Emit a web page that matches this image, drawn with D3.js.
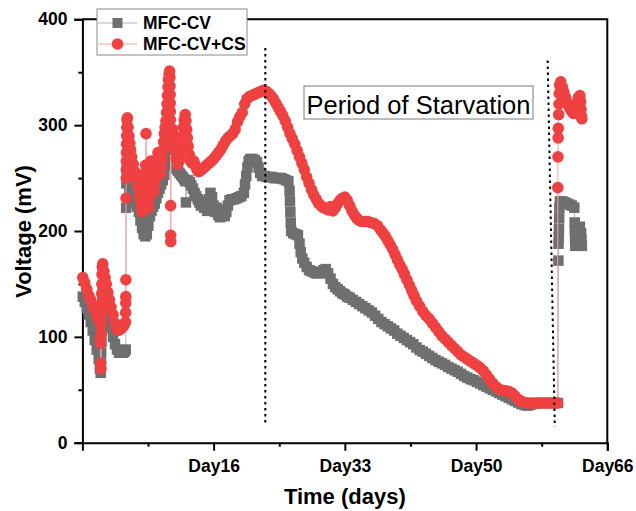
<!DOCTYPE html>
<html>
<head>
<meta charset="utf-8">
<script src="https://cdn.jsdelivr.net/npm/d3@7"></script>
<style>
  body { margin: 0; background: #fff; }
  svg { display: block; }
  text { font-family: "Liberation Sans", Arial, sans-serif; }
</style>
</head>
<body>
<svg id="chart" width="636" height="511"></svg>
<script>
// ---- data: [day, voltage in mV] ---------------------------------------
const seriesNames = ["MFC-CV", "MFC-CV+CS"];

// MFC-CV (grey squares)
const cvPoints = [
  [0.05,138],[0.3,133],[0.55,127],[0.8,121],[1.05,114],[1.3,106],[1.55,97],[1.8,88],[2.05,79],[2.2,70],
  [2.3,66],[2.33,75],[2.36,85],[2.39,95],[2.42,105],[2.45,115],[2.48,125],[2.51,135],[2.54,143],[2.7,144],
  [2.84,140],[3.03,132],[3.22,124],[3.41,116],[3.6,108],[3.85,100],[4.1,93],[4.35,88],[4.6,85],[4.85,85],
  [5.1,85],[5.3,86],[5.45,88],
  [5.5,222],[5.53,245],[5.57,258],[5.7,250],[5.9,241],[6.1,236],[6.35,231],[6.6,227],[6.85,223],[7.1,218],
  [7.3,210],[7.5,203],[7.7,197],[7.9,195],[8.1,197],[8.3,205],[8.5,214],[8.7,219],[8.9,223],[9.1,226],
  [9.3,231],[9.5,236],[9.7,240],[9.9,244],[10.1,248],[10.3,253],[10.5,262],[10.7,272],[10.85,279],
  [11.0,272],[11.2,268],[11.4,265],[11.6,262],[11.8,259],[12.0,257],[12.2,255],[12.4,253],[12.6,251],[12.8,249],
  [12.95,247],[13.02,227],[13.1,248],[13.3,248],[13.5,246],[13.7,243],[13.9,240],[14.1,236],[14.3,233],[14.5,230],
  [14.7,227],[14.9,224],[15.1,228],[15.3,222],[15.5,226],[15.7,219],[15.9,230],[16.1,236],[16.3,232],[16.5,224],
  [16.7,218],[16.9,222],[17.1,215],[17.3,213],[17.5,214],[17.7,220],[17.9,214],[18.1,218],[18.3,224],[18.5,229],
  [18.8,230],[19.1,230],[19.4,231],[19.7,232],[20.0,233],[20.3,236],[20.45,244],[20.6,252],[20.75,260],[20.9,266],
  [21.1,268],[21.4,268],[21.7,267],[21.95,265],[22.15,260],[22.35,255],[22.6,252],[22.9,252],[23.2,251],[23.5,251],
  [23.8,251],[24.1,250],[24.4,250],[24.7,250],[25.0,250],[25.3,249],[25.6,248],[25.9,247],[26.05,238],[26.1,228],
  [26.15,218],[26.2,208],[26.25,200],[26.5,198],[26.8,197],[27.1,196],[27.3,188],[27.45,180],[27.65,174],[27.9,170],
  [28.2,166],[28.5,163],[28.8,162],[29.1,161],[29.4,160],[29.7,160],[30.0,161],[30.3,163],[30.6,164],[30.9,160],
  [31.2,155],[31.5,150],[31.8,147],[32.1,145],[32.4,143],[32.7,141],[33.0,140],[33.3,138],[33.6,137],
  [34.0,135],[34.4,133],[34.8,131],[35.2,129],[35.6,127],[36.0,125],[36.4,123],[36.8,120],[37.2,117],[37.6,114],
  [38.0,112],[38.4,110],[38.8,108],[39.2,106],[39.6,103],[40.0,101],[40.4,99],[40.8,97],[41.2,95],[41.6,93],
  [42.0,90],[42.4,87.5],[42.8,86],[43.2,84],[43.6,82],[44.0,80],[44.4,78],[44.8,76.5],[45.2,75],[45.6,73.5],
  [46.0,71.5],[46.4,70],[46.8,68.5],[47.2,67],[47.6,65],[48.0,63],[48.4,61.5],[48.8,60],[49.2,59],[49.6,57.5],
  [50.0,56],[50.4,54.5],[50.8,53],[51.2,51.5],[51.6,50],[52.0,48.5],[52.4,47],[52.8,45.5],[53.2,44],[53.6,42.5],
  [54.0,41],[54.4,39.5],[54.8,38],[55.2,36.5],[55.6,35.5],[56.0,35],[56.4,36],[56.8,37],[57.3,37.5],[57.8,37.5],
  [58.3,37.5],[58.8,37.5],[59.3,37.5],[59.8,37.5],
  [59.85,172],[59.87,188],[59.9,194],[59.92,202],[59.95,212],[59.98,222],[60.05,228],[60.35,228],[60.65,227],[60.95,226],
  [61.25,225],[61.55,224],[61.85,222],[61.9,208],[61.92,200],[61.95,192],[61.98,186],[62.2,190],[62.4,200],[62.55,204],
  [62.7,198],[62.75,192],[62.8,186]
];

// MFC-CV+CS (red circles)
const csPoints = [
  [0.05,156],[0.3,151],[0.55,145],[0.8,139],[1.05,135],[1.3,130],[1.55,125],[1.8,120],[2.05,116],[2.2,113],
  [2.26,99],[2.28,94],[2.31,75],[2.33,70],
  [2.38,105],[2.39,114],[2.4,123],[2.41,132],[2.43,141],[2.45,150],[2.47,159],[2.5,166],[2.56,169],[2.7,162],
  [2.84,156],[3.0,150],[3.2,142],[3.4,135],[3.6,128],[3.85,121],[4.1,113],[4.3,108],[4.5,106],[4.75,107],
  [5.0,109],[5.25,111],[5.42,114],[5.44,123],[5.45,132],[5.46,138],[5.47,154],
  [5.49,231],[5.51,250],[5.52,258],[5.53,266],[5.54,274],[5.55,282],[5.56,290],[5.58,298],[5.6,305],[5.66,307],
  [5.75,298],[5.85,290],[5.95,283],[6.05,277],[6.2,270],[6.4,263],[6.6,256],[6.8,250],[7.0,242],[7.2,234],
  [7.3,228],[7.4,222],[7.5,218],[7.6,226],[7.7,236],[7.8,246],[7.9,255],[7.95,262],[8.0,292],[8.05,262],
  [8.1,254],[8.15,246],[8.2,238],[8.25,230],[8.3,222],[8.35,229],[8.4,236],[8.45,244],[8.5,252],[8.55,260],
  [8.6,266],[8.7,258],[8.8,250],[8.9,243],[9.0,237],[9.1,244],[9.2,252],[9.3,260],[9.4,268],[9.5,274],
  [9.6,266],[9.7,258],[9.8,254],[9.9,261],[10.0,268],[10.1,276],[10.2,284],[10.3,292],[10.4,298],[10.5,304],
  [10.58,312],[10.64,320],[10.7,328],[10.76,336],[10.82,343],[10.9,348],[10.96,351],[11.0,345],[11.02,337],[11.03,329],
  [11.04,321],[11.05,313],[11.06,305],[11.07,297],[11.08,289],[11.09,224],[11.1,196],[11.11,190],
  [11.15,282],[11.25,290],[11.35,296],[11.45,290],[11.55,282],[11.65,275],[11.8,268],[12.0,263],[12.2,267],[12.35,274],
  [12.5,282],[12.6,290],[12.7,298],[12.8,305],[12.92,310],[13.02,304],[13.1,296],[13.2,288],[13.3,280],[13.45,272],
  [13.6,266],[13.8,264],[14.0,266],[14.2,262],[14.4,258],[14.6,256],[14.8,257],[15.0,258],[15.3,260],[15.6,262],
  [15.9,264],[16.2,266],[16.5,268],[16.8,271],[17.1,274],[17.4,277],[17.7,281],[18.0,285],[18.3,288],[18.6,290],
  [18.9,292],[19.2,296],[19.5,303],[19.8,308],[20.1,312],[20.4,320],[20.7,325],[21.0,327],[21.3,328],[21.6,329],
  [21.9,330],[22.2,331],[22.5,332],[22.8,333],[23.1,332],[23.4,330],[23.7,328],[24.0,325],[24.3,321],[24.6,317],
  [24.9,313],[25.2,309],[25.5,304],[25.8,298],[26.1,292],[26.4,287],[26.7,282],[27.0,276],[27.3,270],[27.6,264],
  [27.9,258],[28.2,251],[28.5,245],[28.8,239],[29.1,234],[29.4,230],[29.7,226],[30.0,224],[30.3,222],[30.6,221],
  [30.9,220],[31.2,223],[31.5,219],[31.8,222],[32.1,226],[32.4,229],[32.7,231],[33.0,232],[33.3,229],[33.6,224],
  [33.9,219],[34.2,215],[34.5,212],[34.8,210],[35.1,209],[35.5,209],[35.9,209],[36.3,208],[36.7,207],[37.1,205],
  [37.5,201],[37.8,198],[38.1,195],[38.4,191],[38.7,187],[39.0,183],[39.3,178],[39.6,173],[39.9,168],[40.2,164],
  [40.5,159],[40.8,154],[41.1,149],[41.4,144],[41.7,139],[42.0,134],[42.4,129],[42.8,124],[43.2,120],[43.6,117],
  [44.0,113],[44.4,109],[44.8,105],[45.2,101],[45.6,98],[46.0,95],[46.4,92],[46.8,89],[47.2,86],[47.6,83],
  [48.0,81],[48.4,79],[48.8,77],[49.2,75],[49.6,73],[50.0,71],[50.4,68],[50.8,64],[51.2,60],[51.6,56],
  [52.0,53],[52.4,50.5],[52.8,49.5],[53.2,49],[53.6,48.5],[54.0,47],[54.4,44],[54.8,41],[55.2,39],[55.6,38],
  [56.0,37.5],[56.4,37.5],[56.8,37.5],[57.2,37.5],[57.6,37.5],[58.0,37.5],[58.4,37.5],[58.8,37.5],[59.2,37.5],[59.5,37.5],
  [59.75,37.5],
  [59.78,241],[59.8,270],[59.82,288],[59.84,297],[59.88,310],[59.92,320],[59.96,330],[60.0,338],[60.15,341],[60.35,336],
  [60.55,331],[60.75,326],[60.95,322],[61.15,318],[61.35,315],[61.55,313],[61.75,311],[61.95,314],[62.15,320],[62.35,326],
  [62.55,328],[62.65,322],[62.7,315],[62.75,309],[62.8,306]
];

// Axis ticks
const xMajorDays = [16.5, 33, 49.5, 66];
const xMajorLabels = ["Day16", "Day33", "Day50", "Day66"];
const xMinorDays = [8.25, 24.75, 41.25, 57.75];
const yMajor = [0, 100, 200, 300, 400];
const yMinor = [50, 150, 250, 350];

// Dotted guides bounding the starvation period
const guideDay = [[23.0, 23.0], [58.5, 59.4]];
const guideMv = [[373, 18], [361, 15]];
const noteText = "Period of Starvation";

// ---- layout -----------------------------------------------------------
const svg = d3.select("#chart");
const plotL = 82.4, plotR = 607.3, plotT = 19.3, plotB = 442.7;
const x = d3.scaleLinear().domain([0, 66]).range([plotL, plotR]);
const y = d3.scaleLinear().domain([0, 400]).range([plotB, plotT]);

const red = "#ef4141", redLine = "#f5a3a3";
const grey = "#6f6f6f", greyLine = "#b5b5b5";

// frame (top and right)
svg.append("path")
  .attr("d", `M${plotL},${plotT}H${plotR}V${plotB}`)
  .attr("fill", "none").attr("stroke", "#000").attr("stroke-width", 2);

// axes
const fontTick = "bold 17.5px 'Liberation Sans', Arial, sans-serif";
svg.append("g").attr("transform", `translate(0,${plotB})`)
  .call(d3.axisBottom(x).tickValues(xMajorDays)
    .tickFormat((d, i) => xMajorLabels[i]).tickSize(8).tickPadding(9));
svg.append("g").attr("transform", `translate(0,${plotB})`)
  .call(d3.axisBottom(x).tickValues(xMinorDays).tickFormat("").tickSize(4))
  .select(".domain").remove();
svg.append("g").attr("transform", `translate(${plotL},0)`)
  .call(d3.axisLeft(y).tickValues(yMajor).tickSize(8).tickPadding(7));
svg.append("g").attr("transform", `translate(${plotL},0)`)
  .call(d3.axisLeft(y).tickValues(yMinor).tickFormat("").tickSize(4))
  .select(".domain").remove();

svg.selectAll(".domain").attr("stroke-width", 2).attr("stroke", "#000");
svg.selectAll(".tick line").attr("stroke-width", 2).attr("stroke", "#000");
svg.selectAll(".tick text").style("font", fontTick).attr("fill", "#000");

// axis titles
svg.append("text").attr("x", (plotL + plotR) / 2).attr("y", 504)
  .attr("text-anchor", "middle").style("font", "bold 22px 'Liberation Sans', Arial, sans-serif")
  .text("Time (days)");
svg.append("text").attr("transform", "translate(31,231.5) rotate(-90)")
  .attr("text-anchor", "middle").style("font", "bold 22px 'Liberation Sans', Arial, sans-serif")
  .text("Voltage (mV)");

// ---- series -----------------------------------------------------------
const line = d3.line().x(d => x(d[0])).y(d => y(d[1]));
const sq = 10.5, rad = 5.8;

svg.append("path").attr("d", line(cvPoints)).attr("fill", "none")
  .attr("stroke", greyLine).attr("stroke-width", 1);
svg.append("g").selectAll("rect").data(cvPoints).join("rect")
  .attr("x", d => x(d[0]) - sq / 2).attr("y", d => y(d[1]) - sq / 2)
  .attr("width", sq).attr("height", sq).attr("fill", grey);

svg.append("path").attr("d", line(csPoints)).attr("fill", "none")
  .attr("stroke", redLine).attr("stroke-width", 1);
svg.append("g").selectAll("circle").data(csPoints).join("circle")
  .attr("cx", d => x(d[0])).attr("cy", d => y(d[1])).attr("r", rad).attr("fill", red);

// dotted guides
guideDay.forEach((g, i) => {
  svg.append("line")
    .attr("x1", x(g[0])).attr("y1", y(guideMv[i][0]))
    .attr("x2", x(g[1])).attr("y2", y(guideMv[i][1]))
    .attr("stroke", "#000").attr("stroke-width", 2).attr("stroke-dasharray", "2.5,3.5");
});

// note box
const note = svg.append("g");
note.append("rect").attr("x", 304).attr("y", 86).attr("width", 229).attr("height", 33)
  .attr("fill", "#fff").attr("stroke", "#7a7a7a").attr("stroke-width", 1);
note.append("text").attr("x", 306.5).attr("y", 113.5)
  .style("font", "25.5px 'Liberation Sans', Arial, sans-serif").text(noteText);

// ---- legend -----------------------------------------------------------
const lg = svg.append("g");
lg.append("rect").attr("x", 97).attr("y", 9).attr("width", 150).attr("height", 46)
  .attr("fill", "#fff").attr("stroke", "#8a8a8a").attr("stroke-width", 1);
const rows = [
  { name: seriesNames[0], yc: 23, color: grey, lineColor: greyLine, shape: "square" },
  { name: seriesNames[1], yc: 44, color: red, lineColor: redLine, shape: "circle" }
];
rows.forEach(r => {
  lg.append("line").attr("x1", 98).attr("x2", 137).attr("y1", r.yc).attr("y2", r.yc)
    .attr("stroke", r.lineColor).attr("stroke-width", 1);
  if (r.shape === "square") {
    lg.append("rect").attr("x", 117.5 - 5).attr("y", r.yc - 5).attr("width", 10).attr("height", 10)
      .attr("fill", r.color);
  } else {
    lg.append("circle").attr("cx", 117.5).attr("cy", r.yc).attr("r", 5.8).attr("fill", r.color);
  }
  lg.append("text").attr("x", 143).attr("y", r.yc + 6)
    .style("font", "bold 17.5px 'Liberation Sans', Arial, sans-serif").text(r.name);
});
</script>
</body>
</html>
